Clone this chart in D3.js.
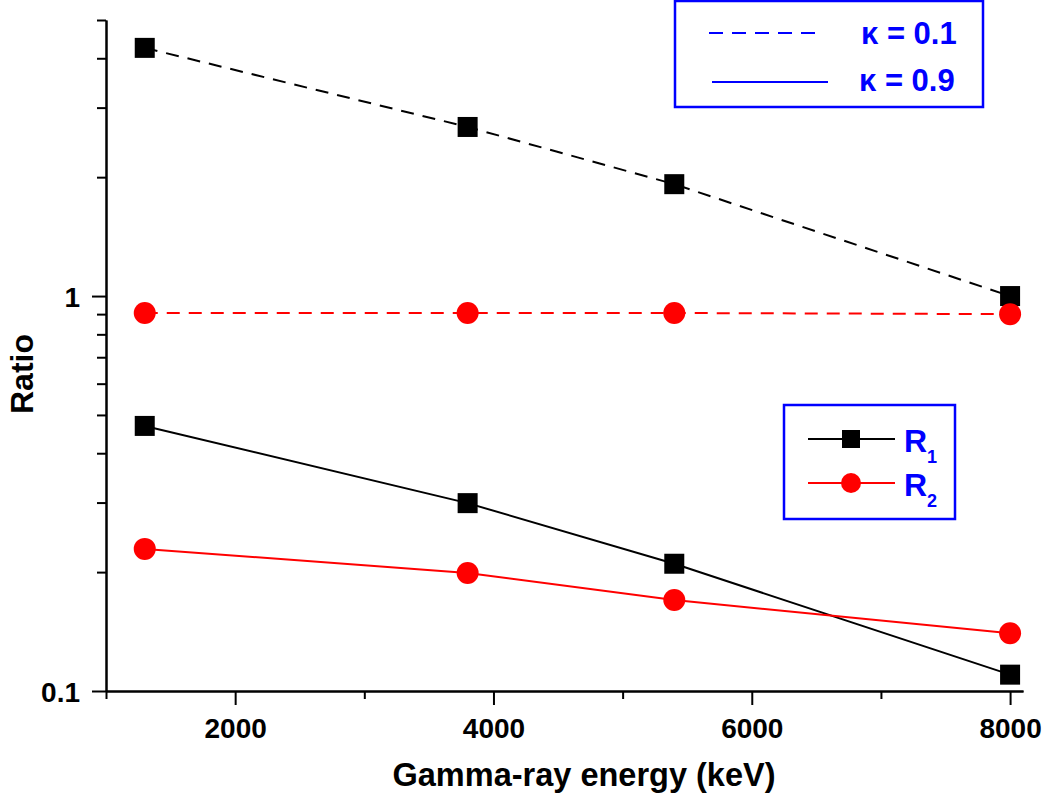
<!DOCTYPE html>
<html>
<head>
<meta charset="utf-8">
<script src="https://cdn.jsdelivr.net/npm/d3@7"></script>
<style>
  body { margin: 0; background: #fff; }
  svg text { font-family: Arial, "Liberation Sans", sans-serif; font-weight: bold; }
</style>
</head>
<body>
<div id="chart"></div>
<script>
// gamma-ray energies (keV)
var energies = [1300, 3800, 5400, 8000];
// kappa = 0.1 (dashed)
var r1Kappa01 = [4.25, 2.68, 1.92, 1.0];
var r2Kappa01 = [0.906, 0.906, 0.906, 0.90];
// kappa = 0.9 (solid)
var r1Kappa09 = [0.469, 0.299, 0.21, 0.110];
var r2Kappa09 = [0.229, 0.199, 0.170, 0.140];

var xMajor = [2000, 4000, 6000, 8000];
var xMinor = [1000, 3000, 5000, 7000];
var yMajor = [0.1, 1];
var yMinor = [0.2, 0.3, 0.4, 0.5, 0.6, 0.7, 0.8, 0.9, 2, 3, 4, 5];

var width = 1048, height = 798;
var blue = "#0000ff";

var svg = d3.select("#chart").append("svg")
    .attr("width", width)
    .attr("height", height);

var x = d3.scaleLinear().domain([1000, 8100]).range([106, 1023]);
var y = d3.scaleLog().domain([0.1, 5]).range([691, 20]);

// x axis
var xAxisMinor = d3.axisBottom(x).tickValues(xMinor).tickSize(8).tickSizeOuter(0).tickFormat("");
var xAxis = d3.axisBottom(x).tickValues(xMajor).tickSize(14).tickSizeOuter(0).tickFormat(d3.format("d"));

svg.append("g").attr("transform", "translate(0," + y(0.1) + ")").call(xAxisMinor);
var gx = svg.append("g").attr("transform", "translate(0," + y(0.1) + ")").call(xAxis);
gx.selectAll("text").attr("font-size", 28).attr("fill", "#000").attr("dy", null).attr("y", 47);

// y axis
var yAxisMinor = d3.axisLeft(y).tickValues(yMinor).tickSize(9).tickSizeOuter(0).tickFormat("");
var yAxis = d3.axisLeft(y).tickValues(yMajor).tickSize(14).tickSizeOuter(0).tickFormat(function (d) { return d === 1 ? "1" : "0.1"; });

svg.append("g").attr("transform", "translate(" + x(1000) + ",0)").call(yAxisMinor);
var gy = svg.append("g").attr("transform", "translate(" + x(1000) + ",0)").call(yAxis);
gy.selectAll("text").attr("font-size", 28).attr("fill", "#000").attr("x", -26).attr("dy", "0.36em");

svg.selectAll(".domain, .tick line").attr("stroke", "#000").attr("stroke-width", 2);

// axis titles
svg.append("text")
    .attr("x", 584).attr("y", 786)
    .attr("text-anchor", "middle")
    .attr("font-size", 32.5)
    .text("Gamma-ray energy (keV)");

svg.append("text")
    .attr("transform", "translate(33,374) rotate(-90)")
    .attr("text-anchor", "middle")
    .attr("font-size", 32)
    .text("Ratio");

// series
var line = d3.line()
    .x(function (d) { return x(d[0]); })
    .y(function (d) { return y(d[1]); });

var series = [
    { values: r1Kappa01, color: "#000", dash: "13,9", marker: "square" },
    { values: r2Kappa01, color: "#ff0000", dash: "13,9", marker: "circle" },
    { values: r1Kappa09, color: "#000", dash: null, marker: "square" },
    { values: r2Kappa09, color: "#ff0000", dash: null, marker: "circle" }
];

series.forEach(function (s) {
    var pts = energies.map(function (e, i) { return [e, s.values[i]]; });
    svg.append("path")
        .datum(pts)
        .attr("d", line)
        .attr("fill", "none")
        .attr("stroke", s.color)
        .attr("stroke-width", 2)
        .attr("stroke-dasharray", s.dash);

    if (s.marker === "square") {
        svg.selectAll(null).data(pts).enter().append("rect")
            .attr("x", function (d) { return x(d[0]) - 10; })
            .attr("y", function (d) { return y(d[1]) - 10; })
            .attr("width", 20).attr("height", 20)
            .attr("fill", s.color);
    } else {
        svg.selectAll(null).data(pts).enter().append("circle")
            .attr("cx", function (d) { return x(d[0]); })
            .attr("cy", function (d) { return y(d[1]); })
            .attr("r", 11)
            .attr("fill", s.color);
    }
});

// legend: line styles
var leg1 = svg.append("g");
leg1.append("rect")
    .attr("x", 675).attr("y", 1).attr("width", 308).attr("height", 106)
    .attr("fill", "#fff").attr("stroke", blue).attr("stroke-width", 2.5);
leg1.append("line")
    .attr("x1", 709).attr("x2", 820).attr("y1", 33).attr("y2", 33)
    .attr("stroke", blue).attr("stroke-width", 2).attr("stroke-dasharray", "14,9");
leg1.append("line")
    .attr("x1", 712).attr("x2", 828).attr("y1", 82).attr("y2", 82)
    .attr("stroke", blue).attr("stroke-width", 2);
leg1.append("text").attr("x", 861).attr("y", 44).attr("font-size", 31).attr("fill", blue).text("\u03ba = 0.1");
leg1.append("text").attr("x", 859).attr("y", 91).attr("font-size", 31).attr("fill", blue).text("\u03ba = 0.9");

// legend: ratios
var leg2 = svg.append("g");
leg2.append("rect")
    .attr("x", 784).attr("y", 405).attr("width", 171).attr("height", 114)
    .attr("fill", "#fff").attr("stroke", blue).attr("stroke-width", 2.5);

var legItems = [
    { label: "R", sub: "1", color: "#000", marker: "square", y: 439 },
    { label: "R", sub: "2", color: "#ff0000", marker: "circle", y: 483 }
];
legItems.forEach(function (d) {
    leg2.append("line")
        .attr("x1", 808).attr("x2", 895).attr("y1", d.y).attr("y2", d.y)
        .attr("stroke", d.color).attr("stroke-width", 2);
    if (d.marker === "square") {
        leg2.append("rect").attr("x", 851 - 9).attr("y", d.y - 9).attr("width", 18).attr("height", 18).attr("fill", d.color);
    } else {
        leg2.append("circle").attr("cx", 851).attr("cy", d.y).attr("r", 10).attr("fill", d.color);
    }
    var t = leg2.append("text").attr("x", 904).attr("y", d.y + 13).attr("font-size", 32).attr("fill", blue);
    t.append("tspan").text(d.label);
    t.append("tspan").attr("font-size", 18).attr("dy", 11).text(d.sub);
});
</script>
</body>
</html>
